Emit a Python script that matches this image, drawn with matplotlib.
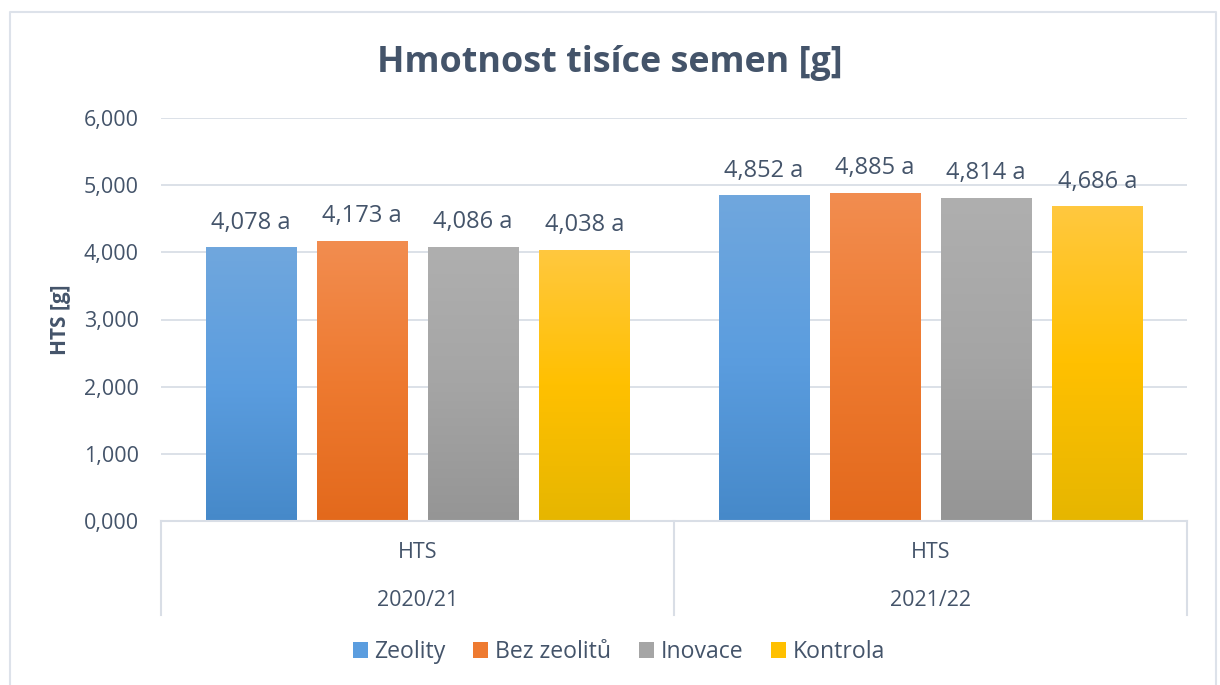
import numpy as np
import matplotlib.pyplot as plt
from matplotlib.colors import LinearSegmentedColormap
from matplotlib.patches import Rectangle
from matplotlib.lines import Line2D

plt.rcParams['font.family'] = ['Open Sans', 'DejaVu Sans']

# data
years = ["2020/21", "2021/22"]
sub_label = "HTS"
series = ["Zeolity", "Bez zeolitů", "Inovace", "Kontrola"]
values = {
    "Zeolity": [4.078, 4.852],
    "Bez zeolitů": [4.173, 4.885],
    "Inovace": [4.086, 4.814],
    "Kontrola": [4.038, 4.686],
}
letters = ["a", "a", "a", "a"]
yticks = [0, 1, 2, 3, 4, 5, 6]

# gradient stops (top, middle, bottom)
grads = {
    "Zeolity": ["#70A7DD", "#5B9DDF", "#4689C9"],
    "Bez zeolitů": ["#F28D50", "#EE7A30", "#E3691C"],
    "Inovace": ["#AFAFAF", "#A5A5A5", "#959595"],
    "Kontrola": ["#FFC83F", "#FFC000", "#E6B600"],
}

txt = "#44546A"
grid_c = "#D9DEE6"

W, H = 1220, 685
fig = plt.figure(figsize=(W / 100, H / 100), dpi=100)
fig.patch.set_facecolor("white")

# outer chart border (left, top, right)
fig.add_artist(Line2D([10 / W, 10 / W, 1216 / W, 1216 / W],
                      [0, 1 - 12 / H, 1 - 12 / H, 0],
                      color="#DDE2EA", lw=1.5, transform=fig.transFigure))

left, right, top, bottom = 161, 1187, 118, 521
ax = fig.add_axes([left / W, 1 - bottom / H, (right - left) / W, (bottom - top) / H])
ax.set_xlim(0, 2)
ax.set_ylim(0, 6)
for s in ax.spines.values():
    s.set_visible(False)
ax.set_yticks(yticks)
ax.set_yticklabels([f"{v:,.3f}".replace(".", ",") for v in yticks])
ax.tick_params(axis="y", length=0, pad=16, labelsize=15.5, labelcolor=txt)
ax.set_xticks([])
ax.grid(axis="y", color=grid_c, lw=1.3)
ax.set_axisbelow(True)
ax.set_ylabel("HTS [g]", fontsize=15, fontweight="bold", color=txt, labelpad=9)

bw = 0.176
offsets = [-0.325, -0.108, 0.108, 0.325]
for i, name in enumerate(series):
    cmap = LinearSegmentedColormap.from_list(name, grads[name][::-1])
    for g, v in enumerate(values[name]):
        x0 = g + 0.5 + offsets[i] - bw / 2
        rect = Rectangle((x0, 0), bw, v, facecolor="none", edgecolor="none", zorder=3)
        ax.add_patch(rect)
        grad = np.linspace(0, 1, 256).reshape(-1, 1)
        im = ax.imshow(grad, cmap=cmap, origin="lower", aspect="auto",
                       extent=(x0, x0 + bw, 0, v), zorder=3)
        im.set_clip_path(rect)
        ax.annotate(f"{v:.3f}".replace(".", ",") + " " + letters[i],
                    (x0 + bw / 2, v), xytext=(0, 9), textcoords="offset points",
                    ha="center", va="bottom", fontsize=17, color=txt)
ax.set_xlim(0, 2)
ax.set_ylim(0, 6)

# category axis box
fy = lambda p: 1 - p / H
fx = lambda p: p / W
fig.add_artist(Line2D([fx(left), fx(right)], [fy(bottom), fy(bottom)],
                      color=grid_c, lw=1.5, transform=fig.transFigure))
for xp in [left, (left + right) / 2, right]:
    fig.add_artist(Line2D([fx(xp), fx(xp)], [fy(bottom), fy(615)],
                          color=grid_c, lw=1.5, transform=fig.transFigure))
for g, yr in enumerate(years):
    xc = left + (right - left) * (g + 0.5) / 2
    fig.text(fx(xc), fy(553), sub_label, ha="center", va="center", fontsize=15.5, color=txt)
    fig.text(fx(xc), fy(600), yr, ha="center", va="center", fontsize=15.5, color=txt)

fig.text(0.5, fy(63), "Hmotnost tisíce semen [g]", ha="center", va="center",
         fontsize=25.8, fontweight="bold", color=txt)

handles = [Rectangle((0, 0), 1, 1, facecolor=grads[n][1], edgecolor="none") for n in series]
fig.legend(handles, series, loc="center", bbox_to_anchor=(fx(619), fy(652)), ncol=4,
           frameon=False, fontsize=16.6, labelcolor=txt, handlelength=0.65, handleheight=0.65,
           handletextpad=0.3, columnspacing=1.2)

fig.savefig("out.png", dpi=100, facecolor="white")
